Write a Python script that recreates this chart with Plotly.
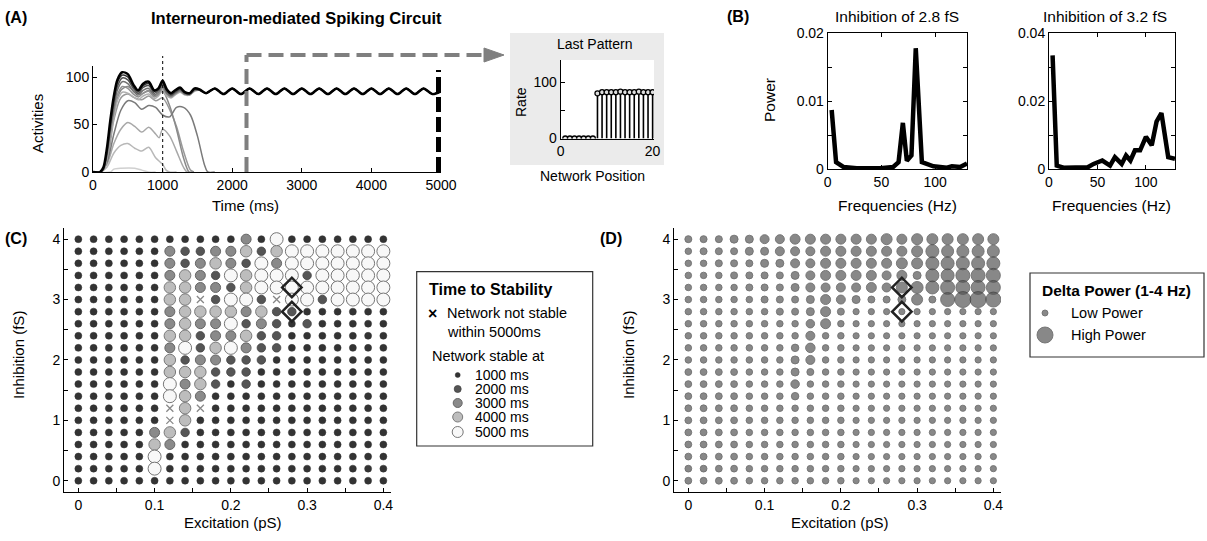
import plotly.graph_objects as go

W, H = 1207, 541
def px(x): return x / W
def py(y): return 1 - y / H

FONT = "Liberation Sans, Arial, sans-serif"

# ---------------- Panel A data ----------------
early_t = [0, 100, 150, 200, 250, 300, 350, 420, 500, 580, 650, 720, 800, 880, 940, 1000,
           1060, 1120, 1180, 1250, 1320, 1390, 1460, 1530]
black_early = [0, 0, 5, 25, 55, 80, 97, 105, 103, 92, 86, 93, 95, 86, 88, 96, 87, 83, 86, 89, 84, 83, 88, 87]
conv1 = [0, 0, 4, 22, 52, 77, 94, 102, 100, 90, 85, 91, 93, 85, 87, 94, 86, 82, 85, 88, 84, 83, 87, 87]
conv2 = [0, 0, 3, 20, 48, 73, 90, 99, 97, 88, 83, 89, 91, 83, 86, 92, 85, 81, 84, 87, 83, 82, 87, 86]
conv3 = [0, 0, 3, 18, 44, 68, 86, 95, 93, 85, 81, 86, 88, 81, 84, 90, 83, 80, 83, 86, 82, 82, 86, 86]
conv4 = [0, 0, 2, 16, 40, 63, 81, 90, 88, 82, 79, 83, 85, 79, 82, 88, 82, 79, 82, 85, 82, 81, 86, 86]
conv5 = [0, 0, 2, 14, 36, 58, 75, 84, 83, 79, 76, 80, 82, 77, 80, 86, 80, 78, 81, 84, 81, 81, 85, 86]
tail_t = [1625, 1750, 1875, 2000, 2125, 2250, 2375, 2500, 2625, 2750, 2875, 3000, 3125, 3250,
          3375, 3500, 3625, 3750, 3875, 4000, 4125, 4250, 4375, 4500, 4625, 4750, 4875, 5000]
tail_v = [83, 88, 82, 88, 82, 88, 82, 88, 82, 88, 82, 88, 82, 88,
          82, 88, 82, 88, 82, 88, 82, 88, 82, 88, 82, 88, 82, 85]

die1_t = [0, 100, 200, 300, 400, 500, 600, 700, 800, 900, 1000, 1100, 1200, 1300, 1400, 1500, 1600, 1650, 1750]
die1_v = [0, 0, 10, 40, 65, 75, 73, 66, 70, 68, 60, 58, 68, 68, 60, 38, 8, 0, 0]
die2_t = [0, 100, 200, 300, 400, 500, 600, 700, 800, 900, 1000, 1100, 1200, 1300, 1380, 1450]
die2_v = [0, 0, 14, 62, 86, 90, 84, 82, 86, 80, 85, 70, 45, 15, 0, 0]
die3_t = [0, 100, 200, 300, 400, 500, 600, 700, 800, 900, 1000, 1100, 1200, 1300, 1400, 1450]
die3_v = [0, 0, 12, 55, 78, 82, 78, 76, 80, 75, 78, 66, 48, 22, 2, 0]
die4_t = [0, 100, 200, 300, 400, 500, 600, 700, 800, 900, 950, 1000, 1100, 1200, 1300, 1350, 1450]
die4_v = [0, 0, 8, 30, 45, 52, 48, 42, 47, 40, 36, 45, 38, 22, 5, 0, 0]
die5_t = [0, 100, 200, 300, 400, 500, 600, 700, 800, 900, 1000, 1050, 1100, 1200]
die5_v = [0, 0, 5, 20, 28, 30, 25, 22, 26, 15, 8, 2, 0, 0]
die6_t = [0, 250, 300, 400, 600, 700, 800, 900]
die6_v = [0, 0, 3, 4, 4, 2, 0, 0]

# inset: last pattern
net_pos = list(range(1, 21))
last_rate = [0, 0, 0, 0, 0, 0, 0, 80, 82, 82, 82, 82, 83, 82, 82, 82, 83, 82, 82, 82]

# ---------------- Panel B data ----------------
f28 = [3.7, 7.8, 14.6, 27, 49, 61, 66, 70, 73.7, 78, 82, 87.7, 98.5, 111, 115.7, 123.4, 129.7]
p28 = [0.0087, 0.001, 0.0003, 0.0001, 0.0001, 0.0003, 0.001, 0.0068, 0.0012, 0.002, 0.0178,
       0.001, 0.0004, 0.0002, 0.0004, 0.0003, 0.0008]
f32 = [3.7, 8, 15, 30, 40, 46, 55, 63, 68, 75, 79.5, 84, 88.7, 94, 100, 106, 111, 116, 123, 130]
p32 = [0.0335, 0.001, 0.0004, 0.0003, 0.0005, 0.0015, 0.0025, 0.001, 0.0035, 0.0015, 0.004,
       0.0025, 0.0055, 0.0055, 0.0095, 0.007, 0.014, 0.0165, 0.0035, 0.003]

# ---------------- Panels C / D data ----------------
excitation = [round(0.02 * i, 2) for i in range(21)]
inhibition_rows = [round(4.0 - 0.2 * i, 1) for i in range(21)]  # top row first
# time to stability: 0 = not stable, 1..5 = stable at 1000..5000 ms
stability_rows = [
    "111111111113151111111",
    "111111322334245555555",
    "111111323432535555555",
    "111111343254555255555",
    "111111443324555555555",
    "111111440255205525555",
    "111111344443422111111",
    "111111343352321211111",
    "111111442334221111111",
    "111111352453221111111",
    "111111423322211111111",
    "111111444222111111111",
    "111111534212111111111",
    "111111543111111111111",
    "111111040111111111111",
    "111111041111111111111",
    "111113421111111111111",
    "111114311111111111111",
    "111115111111111111111",
    "111115111111111111111",
    "111111111111111111111",
]
# delta power (1-4 Hz), arbitrary units, top row first
delta_rows = [
    [1.0, 1.0, 1.0, 2.0, 2.0, 3.0, 3.0, 4.0, 4.0, 4.0, 4.0, 4.0, 4.0, 5.0, 4.0, 5.0, 5.0, 5.0, 5.0, 5.0, 5.0],
    [0.5, 1.0, 1.0, 1.0, 2.0, 2.0, 3.0, 3.0, 3.0, 4.0, 4.0, 4.0, 4.0, 4.0, 4.0, 5.0, 7.0, 6.0, 6.0, 6.0, 6.0],
    [0.5, 0.5, 1.0, 1.0, 1.0, 2.0, 2.0, 3.0, 3.0, 4.0, 4.0, 4.0, 4.0, 4.0, 5.0, 5.0, 7.0, 7.0, 7.0, 7.0, 7.0],
    [0.5, 0.5, 0.5, 1.0, 1.0, 1.0, 1.0, 2.0, 3.0, 4.0, 4.0, 4.0, 4.0, 3.0, 4.0, 2.0, 7.0, 7.0, 8.0, 8.0, 8.0],
    [0.5, 0.5, 0.5, 0.5, 1.0, 1.0, 1.0, 2.0, 3.0, 3.0, 3.0, 3.0, 4.0, 3.0, 5.0, 6.0, 7.0, 8.0, 8.0, 8.0, 8.0],
    [0.5, 0.5, 0.5, 0.5, 0.5, 1.0, 1.0, 1.0, 2.0, 4.0, 3.0, 2.0, 1.0, 1.0, 2.0, 5.0, 1.0, 8.0, 10.0, 10.0, 9.0],
    [0.5, 0.5, 0.5, 0.5, 0.5, 0.5, 1.0, 1.0, 2.0, 4.0, 1.0, 0.2, 0.2, 0.2, 0.2, 0.2, 0.2, 0.2, 0.2, 0.2, 0.2],
    [0.5, 0.5, 0.5, 0.5, 0.5, 0.5, 0.5, 0.5, 2.5, 4.0, 0.5, 0.2, 0.2, 0.2, 0.2, 0.2, 0.2, 0.2, 0.2, 0.2, 0.2],
    [0.5, 0.5, 0.5, 0.5, 0.5, 0.5, 0.5, 0.5, 3.0, 0.5, 0.5, 0.2, 0.2, 0.2, 0.2, 0.2, 0.2, 0.2, 0.2, 0.2, 0.2],
    [0.5, 0.5, 0.5, 0.5, 0.5, 0.5, 0.5, 1.5, 3.5, 0.5, 0.5, 0.2, 0.2, 0.2, 0.2, 0.2, 0.2, 0.2, 0.2, 0.2, 0.2],
    [0.5, 0.5, 0.5, 0.5, 0.5, 0.5, 0.5, 2.0, 3.0, 0.5, 0.5, 0.2, 0.2, 0.2, 0.2, 0.2, 0.2, 0.2, 0.2, 0.2, 0.2],
    [0.8, 0.8, 0.8, 0.8, 0.5, 0.5, 0.5, 2.0, 1.0, 0.5, 0.5, 0.2, 0.2, 0.2, 0.2, 0.2, 0.2, 0.2, 0.2, 0.2, 0.2],
    [0.8, 0.8, 0.8, 0.8, 0.5, 0.5, 0.5, 2.5, 0.5, 0.5, 0.5, 0.2, 0.2, 0.2, 0.2, 0.2, 0.2, 0.2, 0.2, 0.2, 0.2],
    [0.8, 0.8, 0.8, 0.8, 0.5, 0.5, 0.5, 1.5, 0.5, 0.5, 0.5, 0.2, 0.2, 0.2, 0.2, 0.2, 0.2, 0.2, 0.2, 0.2, 0.2],
    [0.8, 0.8, 0.8, 0.8, 0.5, 0.5, 0.5, 0.5, 0.5, 0.5, 0.5, 0.2, 0.2, 0.2, 0.2, 0.2, 0.2, 0.2, 0.2, 0.2, 0.2],
    [0.8, 0.8, 0.8, 0.8, 0.5, 0.5, 0.5, 0.5, 0.5, 0.5, 0.5, 0.2, 0.2, 0.2, 0.2, 0.2, 0.2, 0.2, 0.2, 0.2, 0.2],
    [0.8, 0.8, 0.8, 0.8, 0.5, 0.5, 0.5, 0.5, 0.5, 0.5, 0.5, 0.2, 0.2, 0.2, 0.2, 0.2, 0.2, 0.2, 0.2, 0.2, 0.2],
    [0.8, 0.8, 0.8, 0.8, 0.5, 0.5, 0.5, 0.5, 0.5, 0.5, 0.5, 0.2, 0.2, 0.2, 0.2, 0.2, 0.2, 0.2, 0.2, 0.2, 0.2],
    [0.8, 0.8, 0.8, 0.8, 0.5, 0.5, 0.5, 0.5, 0.5, 0.5, 0.5, 0.2, 0.2, 0.2, 0.2, 0.2, 0.2, 0.2, 0.2, 0.2, 0.2],
    [0.8, 0.8, 0.8, 0.8, 0.5, 0.5, 0.5, 0.5, 0.5, 0.5, 0.5, 0.2, 0.2, 0.2, 0.2, 0.2, 0.2, 0.2, 0.2, 0.2, 0.2],
    [0.8, 0.8, 0.8, 0.8, 0.5, 0.5, 0.5, 0.5, 0.5, 0.5, 0.5, 0.2, 0.2, 0.2, 0.2, 0.2, 0.2, 0.2, 0.2, 0.2, 0.2],
]
marked_exc = [0.28, 0.28]
marked_inh = [3.2, 2.8]

# ---------------- figure ----------------
fig = go.Figure()

def add_a(t, v, color, width):
    fig.add_trace(go.Scatter(x=t, y=v, mode="lines", line=dict(color=color, width=width, shape="spline", smoothing=0.8),
                             xaxis="x", yaxis="y", showlegend=False, hoverinfo="skip"))

add_a(die6_t, die6_v, "#d0d0d0", 1.5)
add_a(die5_t, die5_v, "#b8b8b8", 1.5)
add_a(die4_t, die4_v, "#a8a8a8", 1.5)
add_a(die3_t, die3_v, "#999999", 1.5)
add_a(die2_t, die2_v, "#8a8a8a", 1.5)
add_a(die1_t, die1_v, "#7a7a7a", 1.5)
for vals, col in [(conv5, "#b0b0b0"), (conv4, "#909090"), (conv3, "#707070"), (conv2, "#505050"), (conv1, "#303030")]:
    add_a(early_t + tail_t, vals + tail_v, col, 1.5)
add_a(early_t + tail_t, black_early + tail_v, "#000000", 2.5)

# inset stems
stem_x, stem_y = [], []
for xi, yi in zip(net_pos, last_rate):
    stem_x += [xi, xi, None]
    stem_y += [0, yi, None]
fig.add_trace(go.Scatter(x=stem_x, y=stem_y, mode="lines", line=dict(color="black", width=1.6),
                         xaxis="x2", yaxis="y2", showlegend=False, hoverinfo="skip"))
fig.add_trace(go.Scatter(x=net_pos, y=last_rate, mode="markers",
                         marker=dict(symbol="circle", size=5, color="#dddddd", line=dict(color="black", width=1.3)),
                         xaxis="x2", yaxis="y2", showlegend=False, hoverinfo="skip"))

# Panel B
fig.add_trace(go.Scatter(x=f28, y=p28, mode="lines", line=dict(color="black", width=4.5),
                         xaxis="x3", yaxis="y3", showlegend=False, hoverinfo="skip"))
fig.add_trace(go.Scatter(x=f32, y=p32, mode="lines", line=dict(color="black", width=4.5),
                         xaxis="x4", yaxis="y4", showlegend=False, hoverinfo="skip"))

# Panel C
stab_style = {
    1: dict(color="#333333", size=7, line=dict(color="#333333", width=0.5)),
    2: dict(color="#555555", size=8.5, line=dict(color="#444444", width=0.8)),
    3: dict(color="#8a8a8a", size=10, line=dict(color="#666666", width=1)),
    4: dict(color="#bdbdbd", size=11.5, line=dict(color="#7a7a7a", width=1)),
    5: dict(color="#f8f8f8", size=13, line=dict(color="#777777", width=1)),
}
for code in [1, 2, 3, 4, 5, 0]:
    xs, ys = [], []
    for r, row in enumerate(stability_rows):
        for c, ch in enumerate(row):
            if int(ch) == code:
                xs.append(excitation[c])
                ys.append(inhibition_rows[r])
    if code == 0:
        mk = dict(symbol="x-thin-open", size=7, color="#888888", line=dict(color="#888888", width=1.3))
    else:
        mk = dict(symbol="circle", **stab_style[code])
    fig.add_trace(go.Scatter(x=xs, y=ys, mode="markers", marker=mk, xaxis="x5", yaxis="y5",
                             showlegend=False, hoverinfo="skip"))
fig.add_trace(go.Scatter(x=marked_exc, y=marked_inh, mode="markers",
                         marker=dict(symbol="diamond-open", size=15, color="#222222", line=dict(color="#222222", width=2.5)),
                         xaxis="x5", yaxis="y5", showlegend=False, hoverinfo="skip"))

# Panel D
D_FILL, D_EDGE = "#565656", "#353535"
dx, dy, ds = [], [], []
for r, row in enumerate(delta_rows):
    for c, v in enumerate(row):
        dx.append(excitation[c])
        dy.append(inhibition_rows[r])
        ds.append(6 + v)
fig.add_trace(go.Scatter(x=dx, y=dy, mode="markers",
                         marker=dict(symbol="circle", size=ds, color=D_FILL, line=dict(color=D_EDGE, width=0.9)),
                         xaxis="x6", yaxis="y6", showlegend=False, hoverinfo="skip"))
fig.add_trace(go.Scatter(x=marked_exc, y=marked_inh, mode="markers",
                         marker=dict(symbol="diamond-open", size=15, color="#222222", line=dict(color="#222222", width=2.5)),
                         xaxis="x6", yaxis="y6", showlegend=False, hoverinfo="skip"))

# Legend markers (overlay axes in pixel coordinates)
leg_y = [375, 389, 403, 417, 432]
for k, yy in zip([1, 2, 3, 4, 5], leg_y):
    st = stab_style[k]
    fig.add_trace(go.Scatter(x=[457.7], y=[yy], mode="markers",
                             marker=dict(symbol="circle", color=st["color"], size=[5, 7, 9, 10, 11][k - 1],
                                         line=st["line"]),
                             xaxis="x7", yaxis="y7", showlegend=False, hoverinfo="skip"))
fig.add_trace(go.Scatter(x=[1045, 1045], y=[313, 335], mode="markers",
                         marker=dict(symbol="circle", color=D_FILL, size=[6, 16], line=dict(color=D_EDGE, width=0.9)),
                         xaxis="x7", yaxis="y7", showlegend=False, hoverinfo="skip"))

tickfont = dict(family=FONT, size=14, color="black")
common = dict(showgrid=False, zeroline=False, showline=True, linecolor="black", linewidth=1,
              ticks="inside", ticklen=4, tickcolor="black", tickfont=tickfont, automargin=False)

def ticks(vals, labels):
    return dict(tickmode="array", tickvals=vals, ticktext=labels)

layout = dict(
    width=W, height=H, margin=dict(l=0, r=0, t=0, b=0, pad=0, autoexpand=False),
    paper_bgcolor="white", plot_bgcolor="rgba(0,0,0,0)",
    font=dict(family=FONT, size=14, color="black"),
    xaxis=dict(domain=[px(93), px(441)], range=[0, 5000], anchor="y",
               **ticks([0, 1000, 2000, 3000, 4000, 5000], ["0", "1000", "2000", "3000", "4000", "5000"]), **common),
    yaxis=dict(domain=[py(172), py(65.6)], range=[0, 112], anchor="x",
               **ticks([0, 50, 100], ["0", "50", "100"]), **common),
    xaxis2=dict(domain=[px(560.7), px(654)], range=[0, 20.3], anchor="y2",
                **ticks([0, 20], ["0", "20"]), **common),
    yaxis2=dict(domain=[py(138.5), py(60)], range=[0, 139], anchor="x2",
                **ticks([0, 50, 100], ["0", "", "100"]), **common),
    xaxis3=dict(domain=[px(827.7), px(967.3)], range=[0, 130], anchor="y3", mirror="ticks",
                **ticks([0, 50, 100], ["0", "50", "100"]), **common),
    yaxis3=dict(domain=[py(169), py(33.3)], range=[0, 0.02], anchor="x3", mirror="ticks",
                **ticks([0, 0.005, 0.01, 0.015, 0.02], ["0", "", "0.01", "", "0.02"]), **common),
    xaxis4=dict(domain=[px(1049), px(1175)], range=[0, 130], anchor="y4", mirror="ticks",
                **ticks([0, 50, 100], ["0", "50", "100"]), **common),
    yaxis4=dict(domain=[py(169), py(33.3)], range=[0, 0.04], anchor="x4", mirror="ticks",
                **ticks([0, 0.01, 0.02, 0.03, 0.04], ["0", "", "0.02", "", "0.04"]), **common),
    xaxis5=dict(domain=[px(64), px(391)], range=[-0.0188, 0.41], anchor="y5",
                **ticks([0, 0.05, 0.1, 0.15, 0.2, 0.25, 0.3, 0.35, 0.4], ["0", "", "0.1", "", "0.2", "", "0.3", "", "0.4"]), **common),
    yaxis5=dict(domain=[py(492.2), py(228.3)], range=[-0.19, 4.18], anchor="x5",
                **ticks([0, 0.5, 1, 1.5, 2, 2.5, 3, 3.5, 4], ["0", "", "1", "", "2", "", "3", "", "4"]), **common),
    xaxis6=dict(domain=[px(674), px(1001)], range=[-0.0188, 0.41], anchor="y6",
                **ticks([0, 0.05, 0.1, 0.15, 0.2, 0.25, 0.3, 0.35, 0.4], ["0", "", "0.1", "", "0.2", "", "0.3", "", "0.4"]), **common),
    yaxis6=dict(domain=[py(492.2), py(228.3)], range=[-0.19, 4.18], anchor="x6",
                **ticks([0, 0.5, 1, 1.5, 2, 2.5, 3, 3.5, 4], ["0", "", "1", "", "2", "", "3", "", "4"]), **common),
    xaxis7=dict(domain=[0, 1], range=[0, W], visible=False, anchor="y7", automargin=False),
    yaxis7=dict(domain=[0, 1], range=[H, 0], visible=False, anchor="x7", automargin=False),
)
fig.update_layout(**layout)

ann = []
def text(x, y, s, size=15, bold=False, xanchor="center", yanchor="middle", angle=0):
    ann.append(dict(x=px(x), y=py(y), xref="paper", yref="paper", text=(f"<b>{s}</b>" if bold else s),
                    showarrow=False, xanchor=xanchor, yanchor=yanchor, textangle=angle,
                    font=dict(family=FONT, size=size, color="black")))

text(3, 18, "(A)", 16, True, xanchor="left")
text(296, 18, "Interneuron-mediated Spiking Circuit", 16.5, True)
text(37, 124, "Activities", 15, angle=-90)
text(245, 206, "Time (ms)", 15)
text(595, 44, "Last Pattern", 14)
text(521, 102, "Rate", 14, angle=-90)
text(592, 176, "Network Position", 14)
text(725, 16, "(B)", 16, True, xanchor="left")
text(897, 16, "Inhibition of 2.8 fS", 15.5)
text(1105, 16, "Inhibition of 3.2 fS", 15.5)
text(769, 100, "Power", 15.5, angle=-90)
text(897, 205, "Frequencies (Hz)", 15.5)
text(1111, 205, "Frequencies (Hz)", 15.5)
text(3, 238, "(C)", 16, True, xanchor="left")
text(18, 355, "Inhibition (fS)", 15, angle=-90)
text(233, 522, "Excitation (pS)", 15)
text(598, 238, "(D)", 16, True, xanchor="left")
text(628, 355, "Inhibition (fS)", 15, angle=-90)
text(840, 522, "Excitation (pS)", 15)
# legend C
text(426.7, 289, "Time to Stability", 16, True, xanchor="left")
text(432, 313, "×", 16, True)
text(445, 313, "Network not stable", 14.5, xanchor="left")
text(445, 332, "within 5000ms", 14.5, xanchor="left")
text(430, 356, "Network stable at", 14.5, xanchor="left")
for lab, yy in zip(["1000 ms", "2000 ms", "3000 ms", "4000 ms", "5000 ms"], leg_y):
    text(473, yy, lab, 14, xanchor="left")
# legend D
text(1040, 290, "Delta Power (1-4 Hz)", 15.5, True, xanchor="left")
text(1069, 313, "Low Power", 14.5, xanchor="left")
text(1069, 335, "High Power", 14.5, xanchor="left")

shapes = []
def rect(x0, y0, x1, y1, fill=None, line_color=None, lw=1, layer="below"):
    shapes.append(dict(type="rect", xref="paper", yref="paper", x0=px(x0), x1=px(x1), y0=py(y1), y1=py(y0),
                       fillcolor=fill if fill else "rgba(0,0,0,0)",
                       line=dict(color=line_color if line_color else "rgba(0,0,0,0)", width=lw if line_color else 0),
                       layer=layer))

rect(510, 33, 664, 165, fill="#ebebeb")
rect(560.7, 60, 654, 138.5, fill="white")
rect(416.7, 271.7, 592.7, 446, line_color="#333333", lw=1.2, layer="above")
rect(1030, 273, 1204, 357, line_color="#333333", lw=1.2, layer="above")

def seg(x0, y0, x1, y1, color, width, dash):
    shapes.append(dict(type="line", xref="paper", yref="paper", x0=px(x0), y0=py(y0), x1=px(x1), y1=py(y1),
                       line=dict(color=color, width=width, dash=dash), layer="above"))

seg(162.7, 172, 162.7, 56, "black", 1, "dot")
seg(246.5, 172, 246.5, 55, "#7f7f7f", 4, "15px,7px")
seg(246.5, 55, 487, 55, "#7f7f7f", 4, "15px,7px")
shapes.append(dict(type="path", xref="paper", yref="paper",
                   path=f"M {px(484)},{py(48)} L {px(504)},{py(55)} L {px(484)},{py(62)} Z",
                   fillcolor="#7f7f7f", line=dict(color="#7f7f7f", width=1), layer="above"))
seg(438.5, 172, 438.5, 70, "black", 5, "15px,5px")

fig.update_layout(annotations=ann, shapes=shapes)
fig.write_html("out.html")
